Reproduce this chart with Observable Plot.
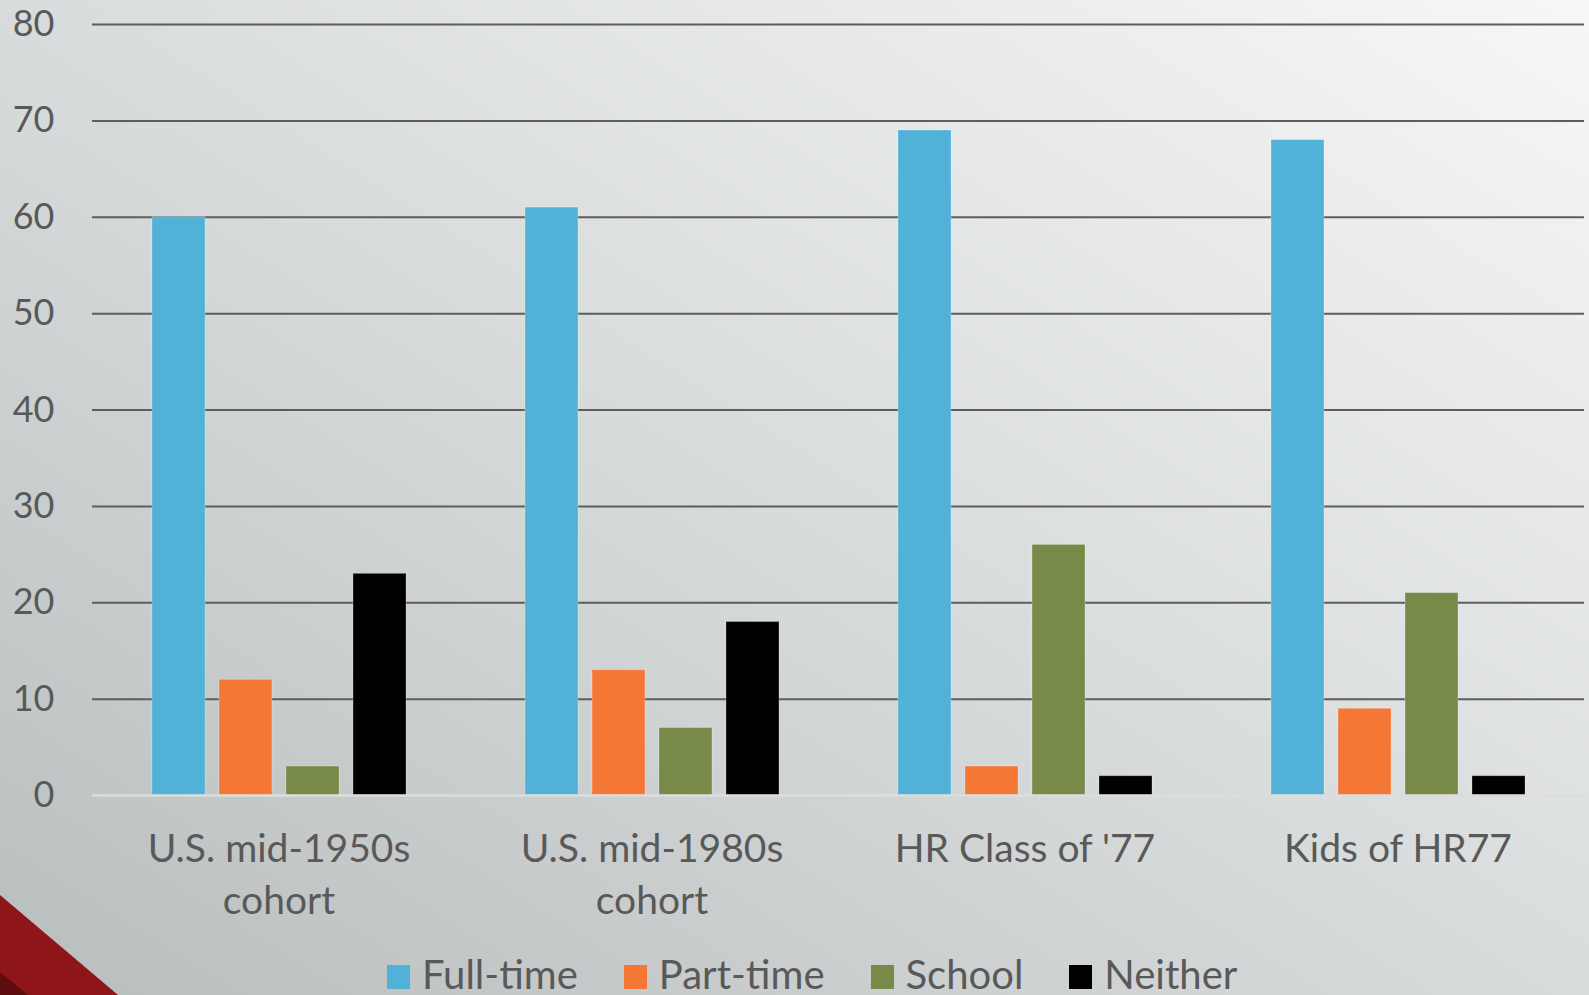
<!DOCTYPE html>
<html>
<head>
<meta charset="utf-8">
<script src="https://cdn.jsdelivr.net/npm/d3@7"></script>
<script src="https://cdn.jsdelivr.net/npm/@observablehq/plot@0.6"></script>
<style>
  html, body { margin: 0; padding: 0; }
  body {
    width: 1589px; height: 995px; overflow: hidden; position: relative;
    background: linear-gradient(to top right, #b8bdbe 0%, #d6d9da 45%, #f6f7f7 100%);
    font-family: Lato, "Open Sans", sans-serif;
  }
  #chart { position: absolute; left: 0; top: 0; }
  #corner { position: absolute; left: 0; top: 0; width: 1589px; height: 995px; pointer-events: none; }
  #legend {
    position: absolute; left: 387px; top: 950px;
    display: flex; align-items: center; gap: 46px;
    font-size: 40px; color: #595959; white-space: nowrap;
  }
  .item { display: flex; align-items: center; gap: 12px; }
  .sw { width: 23px; height: 24px; display: inline-block; margin-top: 6px; }
</style>
</head>
<body>
<svg id="corner" width="1589" height="995">
  <polygon points="0,895 118,995 0,995" fill="#8e1518"></polygon>
  <polygon points="0,972 28,995 0,995" fill="#5e0d0f"></polygon>
</svg>
<div id="chart"></div>
<div id="legend"></div>
<script>
const groups = ["U.S. mid-1950s\ncohort", "U.S. mid-1980s\ncohort", "HR Class of '77", "Kids of HR77"];
const series = ["Full-time", "Part-time", "School", "Neither"];
const fullTime = [60, 61, 69, 68];
const partTime = [12, 13, 3, 9];
const school   = [3, 7, 26, 21];
const neither  = [23, 18, 2, 2];
const colors = ["#51b1d6", "#f47735", "#778a48", "#000000"];
const yTicks = [0, 10, 20, 30, 40, 50, 60, 70, 80];

const valuesBySeries = [fullTime, partTime, school, neither];
const data = [];
groups.forEach((g, i) => series.forEach((s, j) => data.push({group: g, series: s, value: valuesBySeries[j][i]})));

const chart = Plot.plot({
  width: 1589,
  height: 945,
  marginTop: 24,
  marginBottom: 150,
  marginLeft: 92,
  marginRight: 5,
  style: {background: "transparent", fontFamily: "Lato, 'Open Sans', sans-serif"},
  fx: {domain: groups, paddingInner: 0, paddingOuter: 0, label: null},
  x: {domain: series, paddingInner: 0.215, paddingOuter: 0.87, axis: null},
  y: {domain: [0, 80], label: null},
  color: {domain: series, range: colors},
  marks: [
    Plot.ruleY(yTicks.filter(d => d > 0), {stroke: "#5d5d5d", strokeWidth: 2}),
    Plot.barY(data, {fx: "group", x: "series", y: "value", fill: "series", stroke: "#ffffff", strokeOpacity: 0.25, strokeWidth: 1}),
    Plot.ruleY([0], {stroke: "#dcdede", strokeWidth: 2.5}),
    Plot.axisY({ticks: yTicks, tickSize: 0, tickPadding: 38, fontSize: 36, fill: "#595959", label: null}),
    Plot.axisFx({anchor: "bottom", tickSize: 0, tickPadding: 30, fontSize: 39, fill: "#595959", lineHeight: 1.32, label: null})
  ]
});
document.getElementById("chart").appendChild(chart);

const legend = document.getElementById("legend");
series.forEach((s, i) => {
  const item = document.createElement("div");
  item.className = "item";
  const sw = document.createElement("span");
  sw.className = "sw";
  sw.style.background = colors[i];
  const label = document.createElement("span");
  label.textContent = s;
  item.appendChild(sw);
  item.appendChild(label);
  legend.appendChild(item);
});
</script>
</body>
</html>
